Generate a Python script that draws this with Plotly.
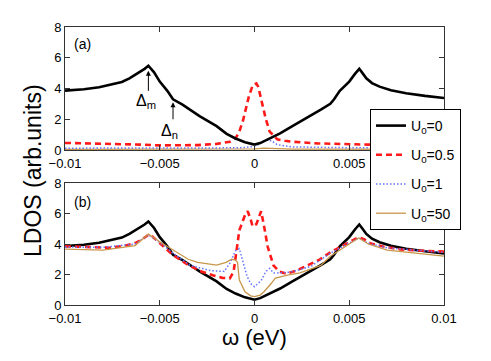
"""LDOS vs energy for several impurity strengths U0, two stacked panels."""

import plotly.graph_objects as go

# ---- data ----
# U0 = 0 (same clean curve in both panels)
w_u0 = [-0.01, -0.009, -0.0082, -0.0075, -0.007, -0.0066, -0.006, -0.0058, -0.0056,
        -0.0053, -0.005, -0.0046, -0.0043, -0.0038, -0.0029, -0.002, -0.00147, -0.001,
        -0.0005, 0.0, 0.0003, 0.0008, 0.00135, 0.002, 0.00275, 0.0035, 0.004, 0.0042,
        0.0045, 0.005, 0.0053, 0.00553, 0.0057, 0.0059, 0.0062, 0.0066, 0.0072, 0.008,
        0.009, 0.01]
ldos_u0 = [3.86, 3.95, 4.08, 4.25, 4.42, 4.66, 5.1, 5.28, 5.48,
           5.05, 4.45, 3.85, 3.3, 2.95, 2.2, 1.55, 1.05, 0.75,
           0.5, 0.35, 0.45, 0.75, 1.08, 1.55, 2.06, 2.62, 3.0, 3.3,
           3.85, 4.45, 4.95, 5.28, 5.0, 4.66, 4.35, 4.12, 3.88, 3.69,
           3.52, 3.38]

# panel (a)
w_a_u05 = [-0.01, -0.008, -0.006, -0.005, -0.004, -0.003, -0.002, -0.0013, -0.001,
           -0.0008, -0.0006, -0.0003, -0.0001, 0.0001, 0.0002, 0.0004, 0.0006, 0.0008,
           0.0012, 0.0016, 0.002, 0.0033, 0.005, 0.006, 0.0075, 0.01]
ldos_a_u05 = [0.46, 0.42, 0.35, 0.3, 0.3, 0.32, 0.4, 0.54, 0.76,
              1.2, 1.95, 3.47, 4.2, 4.33, 4.1, 3.05, 2.0, 1.2,
              0.7, 0.6, 0.54, 0.43, 0.35, 0.35, 0.4, 0.45]

w_a_u1 = [-0.01, -0.005, -0.001, -0.0005, 0.0, 0.0003, 0.0006, 0.0009, 0.0012, 0.002,
          0.005, 0.01]
ldos_a_u1 = [0.12, 0.12, 0.14, 0.17, 0.25, 0.4, 0.65, 0.6, 0.35, 0.2,
             0.15, 0.13]

w_a_u50 = [-0.01, -0.001, 0.0, 0.0005, 0.001, 0.002, 0.01]
ldos_a_u50 = [0.04, 0.05, 0.07, 0.12, 0.09, 0.06, 0.05]

# panel (b)
w_b_u05 = [-0.01, -0.009, -0.0076, -0.0068, -0.0063, -0.006, -0.0056, -0.0054, -0.005,
           -0.0043, -0.0035, -0.0028, -0.0022, -0.0017, -0.0013, -0.0011, -0.001,
           -0.0008, -0.0005, -0.00036, -0.0002, -0.0001, 0.0001, 0.00035, 0.0005,
           0.0007, 0.001, 0.0013, 0.0017, 0.0022, 0.0028, 0.0034, 0.004, 0.0045, 0.005,
           0.0055, 0.0058, 0.0061, 0.0068, 0.0077, 0.009, 0.01]
ldos_b_u05 = [3.85, 3.8, 3.75, 3.9, 4.06, 4.25, 4.6, 4.5, 4.06,
              3.28, 2.62, 2.2, 1.95, 1.78, 1.75, 2.2, 3.1,
              4.9, 5.9, 6.15, 5.6, 5.15, 5.3, 6.15, 5.2,
              3.8, 2.6, 2.2, 2.05, 2.25, 2.6, 2.95, 3.45, 3.8, 4.15,
              4.45, 4.3, 4.05, 3.83, 3.65, 3.55, 3.5]

w_b_u1 = [-0.01, -0.008, -0.0063, -0.0056, -0.005, -0.0043, -0.0034, -0.0023, -0.0016,
          -0.0013, -0.001, -0.0008, -0.0006, -0.0004, -0.0002, 0.0, 0.00035, 0.0006,
          0.0008, 0.001, 0.0013, 0.0018, 0.0022, 0.003, 0.004, 0.005, 0.0055, 0.006,
          0.007, 0.01]
ldos_b_u1 = [3.8, 3.78, 4.0, 4.6, 4.1, 3.4, 2.6, 2.25, 2.2,
             2.75, 3.55, 3.7, 2.8, 1.9, 1.4, 1.2, 1.6, 2.2,
             2.4, 2.1, 2.1, 2.15, 2.25, 2.55, 3.4, 4.1, 4.4, 4.05,
             3.75, 3.45]

w_b_u50 = [-0.01, -0.008, -0.0063, -0.0056, -0.005, -0.0043, -0.0035, -0.003, -0.002,
           -0.0015, -0.0012, -0.001, -0.0009, -0.0008, -0.0005, -0.0002, 0.0, 0.0003,
           0.0005, 0.0009, 0.0011, 0.0018, 0.0024, 0.0035, 0.004, 0.005, 0.0055, 0.006,
           0.007, 0.01]
ldos_b_u50 = [3.67, 3.6, 3.9, 4.65, 4.15, 3.6, 3.0, 2.8, 2.62,
              2.8, 3.0, 2.95, 2.8, 1.64, 0.87, 0.6, 0.55, 0.65,
              0.87, 1.44, 1.77, 1.97, 2.1, 2.6, 3.2, 4.0, 4.4, 4.0,
              3.6, 3.2]

x_ticks = [-0.01, -0.005, 0, 0.005, 0.01]
x_ticktext = ["\u22120.01", "\u22120.005", "0", "0.005", "0.01"]
# in panel (a) the last label sits under the legend box
x_ticktext_a = ["\u22120.01", "\u22120.005", "0", "0.005", ""]
y_ticks = [0, 2, 4, 6, 8]

FONT = "Arial, Liberation Sans, sans-serif"
BLACK = "#000000"
RED = "#ff1a1a"
BLUE = "#6474ff"
BROWN = "#c8964b"

styles = {
    "U0=0": dict(color=BLACK, width=2.6),
    "U0=0.5": dict(color=RED, width=2.6, dash="6px,4px"),
    "U0=1": dict(color=BLUE, width=1.5, dash="1.5px,2px"),
    "U0=50": dict(color=BROWN, width=1.3),
}
names = {
    "U0=0": "U<sub>0</sub>=0",
    "U0=0.5": "U<sub>0</sub>=0.5",
    "U0=1": "U<sub>0</sub>=1",
    "U0=50": "U<sub>0</sub>=50",
}
ranks = {"U0=0": 1, "U0=0.5": 2, "U0=1": 3, "U0=50": 4}

panel_a = [("U0=0", w_u0, ldos_u0), ("U0=0.5", w_a_u05, ldos_a_u05),
           ("U0=1", w_a_u1, ldos_a_u1), ("U0=50", w_a_u50, ldos_a_u50)]
panel_b = [("U0=0", w_u0, ldos_u0), ("U0=0.5", w_b_u05, ldos_b_u05),
           ("U0=1", w_b_u1, ldos_b_u1), ("U0=50", w_b_u50, ldos_b_u50)]

fig = go.Figure()

# panel (a): flat curves underneath, black on top
for key, w, v in reversed(panel_a):
    fig.add_trace(go.Scatter(x=w, y=v, mode="lines", name=names[key], line=styles[key],
                             legendgroup=key, legendrank=ranks[key], xaxis="x", yaxis="y"))
for key, w, v in panel_b:
    fig.add_trace(go.Scatter(x=w, y=v, mode="lines", name=names[key], line=styles[key],
                             legendgroup=key, showlegend=False, xaxis="x2", yaxis="y2"))

axis_common = dict(
    showgrid=False, zeroline=False, showline=True, linecolor="#333333", linewidth=1,
    mirror="ticks", ticks="inside", ticklen=5, tickcolor="#333333",
    tickfont=dict(family=FONT, size=13, color="#000000"), automargin=False,
)

W, H = 491, 361
x_dom = [65 / W, 444 / W]

fig.update_layout(
    width=W, height=H,
    margin=dict(l=0, r=0, t=0, b=0),
    paper_bgcolor="white", plot_bgcolor="white",
    xaxis=dict(domain=x_dom, range=[-0.01, 0.01], tickvals=x_ticks, ticktext=x_ticktext_a,
               anchor="y", ticklabelstandoff=1, **axis_common),
    yaxis=dict(domain=[1 - 150 / H, 1 - 27 / H], range=[0, 8], tickvals=y_ticks,
               anchor="x", **axis_common),
    xaxis2=dict(domain=x_dom, range=[-0.01, 0.01], tickvals=x_ticks, ticktext=x_ticktext,
                anchor="y2", ticklabelstandoff=1, **axis_common),
    yaxis2=dict(domain=[1 - 305 / H, 1 - 183 / H], range=[0, 8], tickvals=y_ticks,
                anchor="x2", **axis_common),
    legend=dict(x=370 / W, y=1 - 109 / H, xanchor="left", yanchor="top",
                bgcolor="white", bordercolor="#000000", borderwidth=1,
                font=dict(family=FONT, size=14, color="#000000"),
                tracegroupgap=8, itemwidth=30),
    showlegend=True,
)

annotations = [
    dict(text="(a)", x=82 / W, y=1 - 44 / H, font=dict(size=14)),
    dict(text="(b)", x=82 / W, y=1 - 202 / H, font=dict(size=14)),
    dict(text="LDOS (arb.units)", x=33 / W, y=1 - 171 / H, textangle=-90, font=dict(size=23)),
    dict(text="\u03c9 (eV)", x=254.5 / W, y=1 - 337 / H, font=dict(size=22)),
]
for a in annotations:
    a.update(xref="paper", yref="paper", showarrow=False, xanchor="center", yanchor="middle")
    a["font"].update(family=FONT, color="#000000")
    fig.add_annotation(**a)

# gap markers with arrows in panel (a)
arrow = dict(xref="x", yref="y", axref="x", ayref="y", showarrow=True, arrowhead=2,
             arrowsize=1, arrowwidth=1, arrowcolor="#000000", text="")
fig.add_annotation(x=-0.0056, y=5.15, ax=-0.0056, ay=3.75, **arrow)
fig.add_annotation(x=-0.0043, y=3.1, ax=-0.0043, ay=1.9, **arrow)
fig.add_annotation(x=-0.0057, y=3.15, xref="x", yref="y", showarrow=False,
                   text="\u0394<sub>m</sub>", font=dict(family=FONT, size=16, color="#000000"))
fig.add_annotation(x=-0.0045, y=1.2, xref="x", yref="y", showarrow=False,
                   text="\u0394<sub>n</sub>", font=dict(family=FONT, size=16, color="#000000"))

# drop the default page margin so the figure sits at the window's top-left corner
fig.write_html("out.html", config={"displayModeBar": False},
               post_script="document.body.style.margin='0';")
